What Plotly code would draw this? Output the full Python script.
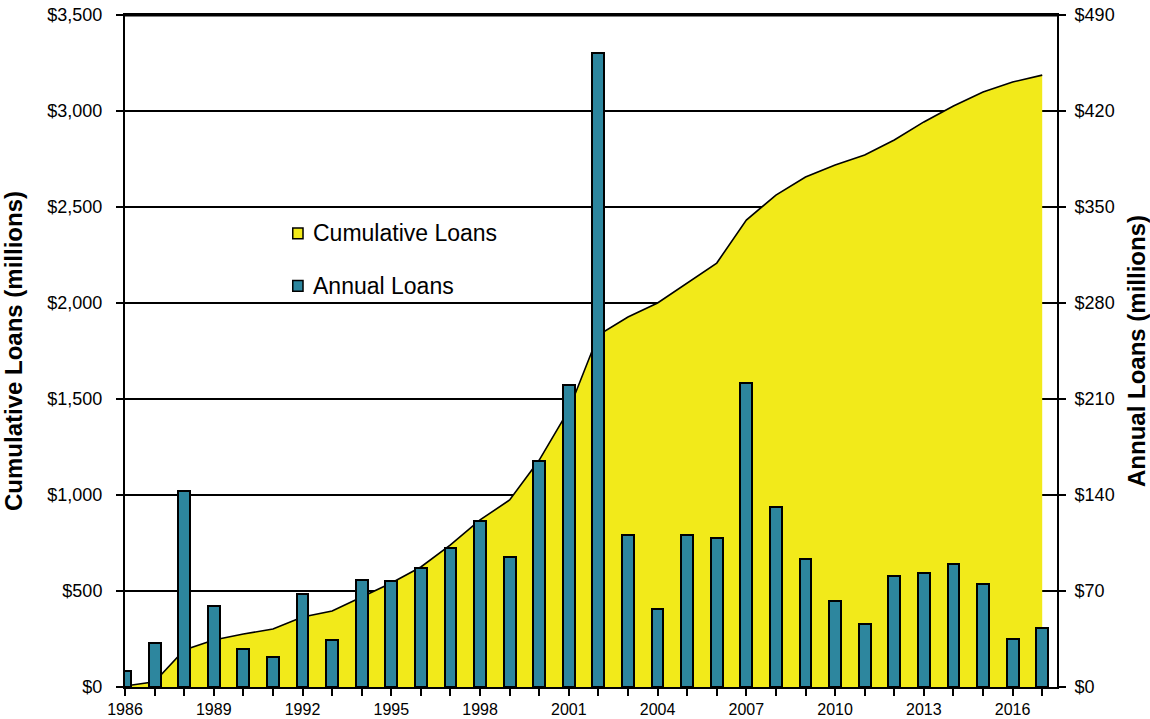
import plotly.graph_objects as go

years = list(range(1986, 2018))

# Cumulative loans, $ millions (left axis)
cumulative = [5, 27, 193, 245, 276, 302, 365, 396, 469, 542, 625, 740, 870, 974,
              1182, 1443, 1833, 1927, 2000, 2104, 2208, 2432, 2562, 2656, 2719,
              2771, 2849, 2943, 3026, 3099, 3151, 3187]

# Annual loans, $ millions (right axis)
annual = [12, 32, 143, 59, 28, 22, 68, 34, 78, 77, 87, 101, 121, 95, 165, 220,
          462, 111, 57, 111, 109, 222, 131, 93, 63, 46, 81, 83, 90, 75, 35, 43]

x_tick_vals = years
x_tick_text = [str(y) if (y - 1986) % 3 == 0 else "" for y in years]
left_ticks = [0, 500, 1000, 1500, 2000, 2500, 3000, 3500]
left_labels = ["$0", "$500", "$1,000", "$1,500", "$2,000", "$2,500", "$3,000", "$3,500"]
right_ticks = [0, 70, 140, 210, 280, 350, 420, 490]
right_labels = ["$0", "$70", "$140", "$210", "$280", "$350", "$420", "$490"]

YELLOW = "#F2EA1A"
TEAL = "#2D869E"
FONT = "Liberation Sans, Arial, sans-serif"
TICK_FONT = dict(size=18, family=FONT, color="black")

fig = go.Figure()

fig.add_trace(go.Scatter(
    x=years, y=cumulative, mode="lines", fill="tozeroy",
    fillcolor=YELLOW, line=dict(color="black", width=1.6),
    name="Cumulative Loans", yaxis="y", showlegend=False,
))

fig.add_trace(go.Bar(
    x=years, y=annual, width=0.4, yaxis="y2",
    marker=dict(color=TEAL, line=dict(color="black", width=2)),
    name="Annual Loans", showlegend=False,
))

fig.update_layout(
    width=1150, height=719,
    margin=dict(l=125, r=93, t=15, b=32),
    paper_bgcolor="white", plot_bgcolor="white",
    font=dict(family=FONT, color="black", size=14),
    xaxis=dict(
        range=[1986, 2017.5], tickmode="array", tickvals=x_tick_vals,
        ticktext=x_tick_text, ticks="outside", ticklen=7, tickwidth=1.5,
        tickcolor="black", showline=True, linecolor="black", linewidth=2,
        mirror=True, showgrid=False, zeroline=False, automargin=False,
        ticklabelstandoff=0,
        tickfont=dict(size=16, family=FONT, color="black"),
    ),
    yaxis=dict(
        range=[0, 3500], tickmode="array", tickvals=left_ticks,
        ticktext=left_labels,
        ticks="outside", ticklen=7, tickwidth=1.5, tickcolor="black",
        ticklabelstandoff=10,
        showline=True, linecolor="black", linewidth=2,
        showgrid=True, gridcolor="black", gridwidth=1.5, zeroline=False,
        automargin=False,
        title=dict(text="<b>Cumulative Loans (millions)</b>",
                   font=dict(size=24, family=FONT), standoff=22),
        tickfont=TICK_FONT,
    ),
    yaxis2=dict(
        range=[0, 490], tickmode="array", tickvals=right_ticks,
        ticktext=right_labels, overlaying="y", side="right",
        ticks="outside", ticklen=7, tickwidth=1.5, tickcolor="black",
        ticklabelstandoff=5,
        showline=True, linecolor="black", linewidth=2,
        showgrid=False, zeroline=False, automargin=False,
        title=dict(text="<b>Annual Loans (millions)</b>",
                   font=dict(size=24, family=FONT), standoff=22),
        tickfont=TICK_FONT,
    ),
    bargap=0,
)

# Heavier frame line along the top edge
fig.add_shape(type="line", xref="paper", yref="paper", x0=0, x1=1, y0=1, y1=1,
              line=dict(color="black", width=3))

# Legend swatches and labels
legend_items = [("Cumulative Loans", YELLOW, 0.675), ("Annual Loans", TEAL, 0.597)]
for label, color, ypos in legend_items:
    fig.add_shape(type="rect", xref="paper", yref="paper",
                  x0=0.180, x1=0.191, y0=ypos - 0.008, y1=ypos + 0.008,
                  fillcolor=color, line=dict(color="black", width=1.5))
    fig.add_annotation(xref="paper", yref="paper", x=0.1995, y=ypos,
                       text=label, showarrow=False, xanchor="left",
                       yanchor="middle", font=dict(size=23, family=FONT))

fig.write_html("out.html")
